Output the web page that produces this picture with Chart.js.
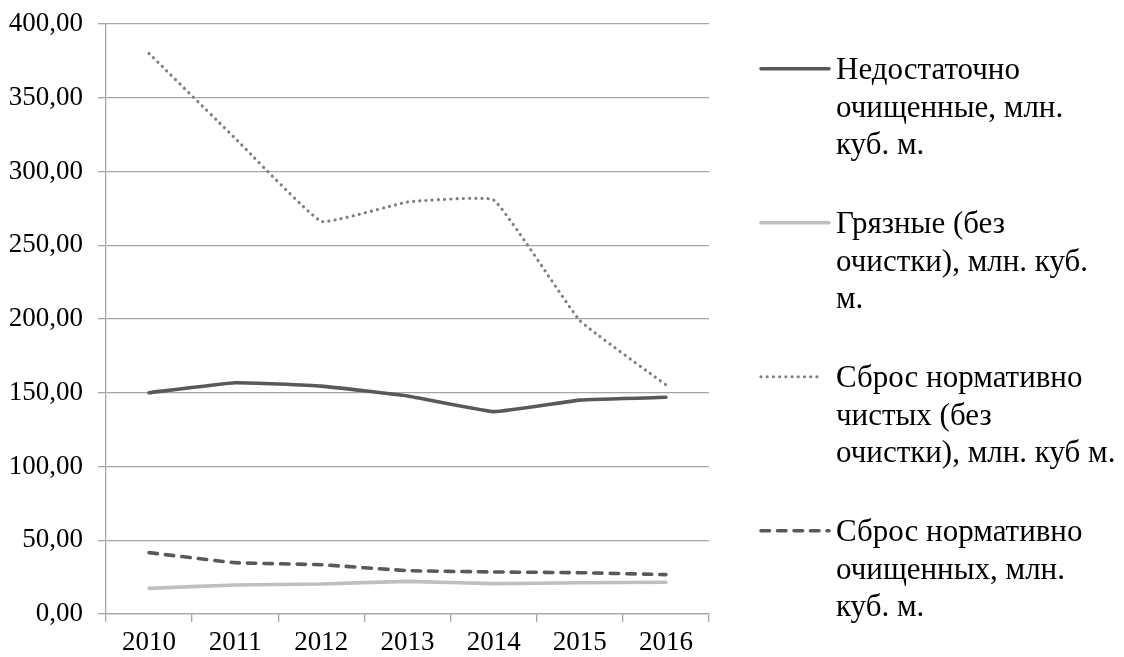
<!DOCTYPE html>
<html>
<head>
<meta charset="utf-8">
<script src="https://cdn.jsdelivr.net/npm/chart.js@4.4.1/dist/chart.umd.min.js"></script>
<style>
  html,body{margin:0;padding:0;background:#fff;}
  #wrap{position:relative;width:1124px;height:657px;overflow:hidden;}
  #c{position:absolute;left:0;top:0;}
  .leg{position:absolute;left:759px;font-family:"Liberation Serif","Times New Roman",serif;font-size:31px;line-height:37.5px;color:#000;white-space:nowrap;}
  .leg svg{position:absolute;left:0;top:0;}
  .leg .txt{position:absolute;left:77px;top:0;}
</style>
</head>
<body>
<div id="wrap">
  <canvas id="c" width="1124" height="657"></canvas>
  <div id="legend"></div>
</div>
<script>
// data
const years = ["2010","2011","2012","2013","2014","2015","2016"];
const nedostatochno = [150.0, 156.8, 154.5, 147.8, 137.2, 145.0, 146.9];
const gryaznye      = [17.4, 19.7, 20.3, 22.1, 20.6, 21.2, 21.5];
const chistye       = [380.0, 322.5, 266.2, 279.3, 280.7, 199.0, 155.3];
const ochishchennye = [41.6, 34.8, 33.4, 29.4, 28.5, 28.0, 26.7];
const yTicks = [0, 50, 100, 150, 200, 250, 300, 350, 400];

const legendLines = [
  ["Недостаточно", "очищенные, млн.", "куб. м."],
  ["Грязные (без", "очистки), млн. куб.", "м."],
  ["Сброс нормативно", "чистых (без", "очистки), млн. куб м."],
  ["Сброс нормативно", "очищенных, млн.", "куб. м."]
];

const series = [
  {label: legendLines[0].join(" "), data: nedostatochno, color:"#595959", width:3.6, dash:[]},
  {label: legendLines[1].join(" "), data: gryaznye, color:"#bfbfbf", width:3.6, dash:[]},
  {label: legendLines[2].join(" "), data: chistye, color:"#7f7f7f", width:3.2, dash:[0.01,6.2]},
  {label: legendLines[3].join(" "), data: ochishchennye, color:"#595959", width:3.6, dash:[8.5,8]}
];

const gridCol = "#a6a6a6";
const fontFam = "'Liberation Serif','Times New Roman',serif";

new Chart(document.getElementById("c"), {
  type: "line",
  data: {
    labels: years,
    datasets: series.map(s => ({
      label: s.label, data: s.data,
      borderColor: s.color, backgroundColor: s.color,
      borderWidth: s.width, borderDash: s.dash,
      borderCapStyle: "round", borderJoinStyle: "round",
      pointRadius: 0, tension: 0.1, fill: false
    }))
  },
  options: {
    responsive: false, animation: false,
    layout: {padding: {left: 0, top: 24, right: 415, bottom: 0}},
    plugins: {legend: {display: false}, tooltip: {enabled: false}},
    scales: {
      x: {
        offset: true,
        grid: {offset: true, drawOnChartArea: false, drawTicks: true, tickLength: 8, color: gridCol, lineWidth: 1.3},
        border: {display: true, color: gridCol, width: 1.3},
        ticks: {color: "#000", font: {family: fontFam, size: 27}, padding: 5, maxRotation: 0},
        afterFit: s => { s.height = 657 - 614; s.paddingLeft = 0; s.paddingRight = 0; }
      },
      y: {
        min: 0, max: 400,
        afterBuildTicks: s => { s.ticks = yTicks.map(v => ({value: v})); },
        grid: {color: gridCol, lineWidth: 1.3, tickLength: 8},
        border: {display: true, color: gridCol, width: 1.3},
        ticks: {color: "#000", font: {family: fontFam, size: 27}, padding: 15,
                callback: v => v.toFixed(2).replace(".", ",")},
        afterFit: s => { s.width = 106; s.paddingTop = 0; s.paddingBottom = 0; }
      }
    }
  }
});

// legend drawn as html, samples as svg lines
const legendTops = [69, 223, 377, 531];
document.getElementById("legend").innerHTML = series.map((s, i) => {
  const y = legendTops[i];
  const dash = s.dash.length ? `stroke-dasharray="${s.dash.join(",")}"` : "";
  return `<div class="leg" style="top:${y - 18.75}px">
    <svg width="76" height="38"><line x1="2" y1="18.75" x2="${i===2?64:70}" y2="18.75" stroke="${s.color}" stroke-width="${s.width}" stroke-linecap="round" ${dash}/></svg>
    <div class="txt">${legendLines[i].join("<br>")}</div>
  </div>`;
}).join("");
</script>
</body>
</html>
